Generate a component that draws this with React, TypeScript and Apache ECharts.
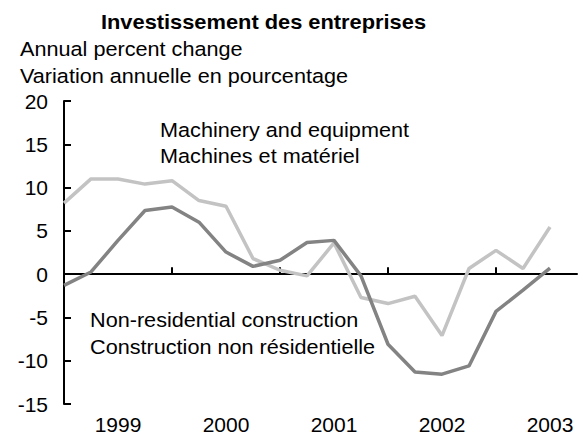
import React, { useEffect, useRef } from "react";
import * as echarts from "echarts";

// Quarterly observations, 1999 Q1 .. 2003 Q3 (index 0..18)
const quarters = [0, 1, 2, 3, 4, 5, 6, 7, 8, 9, 10, 11, 12, 13, 14, 15, 16, 17, 18];
const machinery = [8.2, 11.0, 11.0, 10.4, 10.8, 8.5, 7.85, 1.8, 0.45, -0.2, 3.6, -2.7, -3.4, -2.55, -7.1, 0.65, 2.75, 0.65, 5.45];
const construction = [-1.3, 0.25, 3.9, 7.35, 7.75, 6.0, 2.55, 0.9, 1.6, 3.65, 3.9, -0.2, -8.1, -11.3, -11.55, -10.6, -4.3, -1.85, 0.7];
const yearLabels = ["1999", "2000", "2001", "2002", "2003"];
const yearLabelPositions = [2, 6, 10, 14, 18];
const yearTickPositions = [4, 8, 12, 16];
const yTicks = [-15, -10, -5, 0, 5, 10, 15, 20];

const FONT = "'Liberation Sans', Arial, Helvetica, sans-serif";
const TXT = 19.5;
const SX = 1.11;

export default function App() {
  const ref = useRef<HTMLDivElement>(null);
  useEffect(() => {
    if (!ref.current) return;
    const chart = echarts.init(ref.current, null, { renderer: "svg" });
    const labelMap: Record<number, string> = {};
    yearLabelPositions.forEach((p, i) => (labelMap[p] = yearLabels[i]));
    const note = (text: string, x: number, y: number) => ({
      type: "text",
      x,
      y,
      scaleX: SX,
      style: { text, fontSize: TXT, fontFamily: FONT, fill: "#000", align: "left", verticalAlign: "middle" },
    });
    chart.setOption({
      animation: false,
      backgroundColor: "#ffffff",
      textStyle: { fontFamily: FONT },
      grid: { left: 64, right: 2, top: 101, bottom: 31, containLabel: false },
      xAxis: {
        type: "value",
        min: 0,
        max: 19,
        splitLine: { show: false },
        axisLine: { show: true, lineStyle: { color: "#000", width: 2 } },
        axisTick: {
          show: true,
          inside: true,
          length: 7,
          customValues: yearTickPositions,
          lineStyle: { color: "#000", width: 2 },
        },
        axisLabel: {
          show: true,
          customValues: yearLabelPositions,
          formatter: (v: number) => labelMap[v] ?? "",
          color: "#000",
          fontSize: 21,
          fontFamily: FONT,
          margin: 10,
        },
      },
      yAxis: {
        type: "value",
        min: -15,
        max: 20,
        interval: 5,
        splitLine: { show: false },
        axisLine: { show: true, onZero: false, lineStyle: { color: "#000", width: 2 } },
        axisTick: { show: true, inside: true, length: 7, lineStyle: { color: "#000", width: 2 } },
        axisLabel: {
          show: true,
          color: "#000",
          fontSize: 21,
          fontFamily: FONT,
          margin: 16,
          customValues: yTicks,
        },
      },
      series: [
        {
          name: "Machinery and equipment",
          type: "line",
          data: quarters.map((q, i) => [q, machinery[i]]),
          showSymbol: false,
          symbol: "none",
          lineStyle: { color: "#c3c3c3", width: 3.5 },
          z: 2,
        },
        {
          name: "Non-residential construction",
          type: "line",
          data: quarters.map((q, i) => [q, construction[i]]),
          showSymbol: false,
          symbol: "none",
          lineStyle: { color: "#838383", width: 3.5 },
          z: 3,
        },
      ],
      graphic: [
        {
          type: "text",
          x: 263.5,
          y: 22.5,
          scaleX: 1.04,
          style: {
            text: "Investissement des entreprises",
            fontSize: 21,
            fontWeight: "bold",
            fontFamily: FONT,
            fill: "#000",
            align: "center",
            verticalAlign: "middle",
          },
        },
        note("Annual percent change", 20, 48.5),
        note("Variation annuelle en pourcentage", 20, 75.5),
        note("Machinery and equipment", 160, 130),
        note("Machines et matériel", 160, 156),
        note("Non-residential construction", 90, 320),
        note("Construction non résidentielle", 90, 346.5),
      ],
    });
    return () => chart.dispose();
  }, []);
  return (
    <div
      ref={ref}
      style={{ position: "absolute", left: 0, top: 0, width: 579, height: 435 }}
    />
  );
}
